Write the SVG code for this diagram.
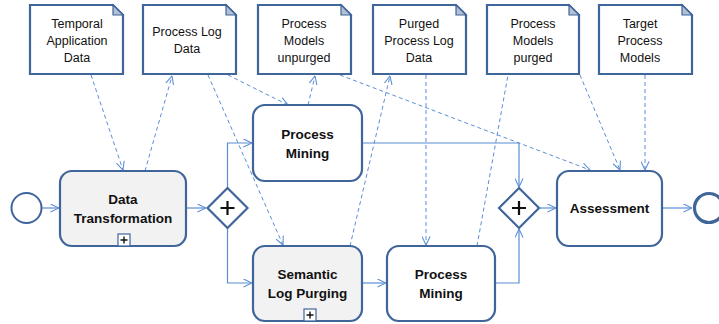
<svg xmlns="http://www.w3.org/2000/svg" width="719" height="324" viewBox="0 0 719 324">
<defs>
<marker id="arr" viewBox="0 0 10 10" refX="9.5" refY="5" markerWidth="9" markerHeight="9" markerUnits="userSpaceOnUse" orient="auto">
<path d="M0,0.5 L9.5,5 L0,9.5" fill="none" stroke="#5b8ed6" stroke-width="1.2"/>
</marker>
<marker id="arrd" viewBox="0 0 10 10" refX="9.5" refY="5" markerWidth="9" markerHeight="9" markerUnits="userSpaceOnUse" orient="auto">
<path d="M0,0.5 L9.5,5 L0,9.5" fill="none" stroke="#5b8ed6" stroke-width="1.2"/>
</marker>
</defs>
<style>
.doc{fill:#fff;stroke:#3f659a;stroke-width:2.2;stroke-linejoin:miter}
.fold{fill:#b4c0d2;stroke:#3f659a;stroke-width:1.2}
.dt{font-family:"Liberation Sans",Arial,sans-serif;font-size:12.5px;fill:#111;text-anchor:middle}
.task{fill:#fff;stroke:#3f659a;stroke-width:2.2}
.sub{fill:#f2f2f2}
.tt{font-family:"Liberation Sans",Arial,sans-serif;font-size:13.5px;font-weight:bold;fill:#111;text-anchor:middle}
.flow{fill:none;stroke:#5b8ed6;stroke-width:1.2;marker-end:url(#arr)}
.assoc{fill:none;stroke:#5b8ed6;stroke-width:1;stroke-dasharray:4 3;marker-end:url(#arrd)}
.assocn{fill:none;stroke:#5b8ed6;stroke-width:1;stroke-dasharray:4 3}
.gw{fill:#fff;stroke:#3f659a;stroke-width:2.2}
.plus{stroke:#111;stroke-width:2.2}
.mk{fill:#fff;stroke:#3f659a;stroke-width:1.2}
.mkp{stroke:#111;stroke-width:1.4}
</style>

<g id="connectors">
<line class="flow" x1="42" y1="208" x2="59" y2="208"/>
<line class="flow" x1="187" y1="208" x2="206" y2="208"/>
<polyline class="flow" points="227.5,188 227.5,143 252,143"/>
<polyline class="flow" points="227.5,228 227.5,283 252,283"/>
<line class="flow" x1="363" y1="283" x2="386" y2="283"/>
<polyline class="flow" points="363,143 519,143 519,187"/>
<polyline class="flow" points="496,283 519,283 519,229"/>
<line class="flow" x1="540" y1="208" x2="556" y2="208"/>
<line class="flow" x1="663" y1="208" x2="692" y2="208"/>
<line class="assoc" x1="91" y1="75" x2="123" y2="170"/>
<line class="assoc" x1="145" y1="171" x2="172" y2="76"/>
<line class="assoc" x1="208" y1="75" x2="283" y2="245"/>
<line class="assoc" x1="228" y1="75" x2="288" y2="105"/>
<line class="assoc" x1="308" y1="105" x2="315" y2="76"/>
<line class="assoc" x1="340" y1="75" x2="590" y2="170"/>
<line class="assoc" x1="350" y1="246" x2="390" y2="76"/>
<line class="assoc" x1="426" y1="75" x2="426" y2="245"/>
<line class="assocn" x1="477" y1="246" x2="508" y2="75"/>
<line class="assoc" x1="580" y1="75" x2="620" y2="170"/>
<line class="assoc" x1="645" y1="75" x2="645" y2="170"/>
</g>

<g id="doc-temporal">
<path class="doc" d="M30,5 H113 L123,15 V74 H30 Z"/>
<path class="fold" d="M113,5 V15 H123 Z"/>
<text class="dt" x="77" y="28">Temporal</text>
<text class="dt" x="77" y="45">Application</text>
<text class="dt" x="77" y="62">Data</text>
</g>
<g id="doc-processlog">
<path class="doc" d="M143,5 H226 L236,15 V74 H143 Z"/>
<path class="fold" d="M226,5 V15 H236 Z"/>
<text class="dt" x="187" y="36">Process Log</text>
<text class="dt" x="187" y="53">Data</text>
</g>
<g id="doc-models-unpurged">
<path class="doc" d="M258,5 H341 L351,15 V74 H258 Z"/>
<path class="fold" d="M341,5 V15 H351 Z"/>
<text class="dt" x="304" y="28">Process</text>
<text class="dt" x="304" y="45">Models</text>
<text class="dt" x="304" y="62">unpurged</text>
</g>
<g id="doc-purged-log">
<path class="doc" d="M373,5 H456 L466,15 V74 H373 Z"/>
<path class="fold" d="M456,5 V15 H466 Z"/>
<text class="dt" x="419" y="28">Purged</text>
<text class="dt" x="419" y="45">Process Log</text>
<text class="dt" x="419" y="62">Data</text>
</g>
<g id="doc-models-purged">
<path class="doc" d="M487,5 H569 L579,15 V74 H487 Z"/>
<path class="fold" d="M569,5 V15 H579 Z"/>
<text class="dt" x="533" y="28">Process</text>
<text class="dt" x="533" y="45">Models</text>
<text class="dt" x="533" y="62">purged</text>
</g>
<g id="doc-target">
<path class="doc" d="M599,5 H682 L692,15 V74 H599 Z"/>
<path class="fold" d="M682,5 V15 H692 Z"/>
<text class="dt" x="640" y="28">Target</text>
<text class="dt" x="640" y="45">Process</text>
<text class="dt" x="640" y="62">Models</text>
</g>

<g id="start">
<circle cx="26.5" cy="208" r="15" fill="#fff" stroke="#3f659a" stroke-width="2"/>
</g>
<g id="task-data-transformation">
<rect class="task sub" x="60" y="171" width="126" height="75" rx="12"/>
<text class="tt" x="123" y="204">Data</text>
<text class="tt" x="123" y="223">Transformation</text>
<rect class="mk" x="118" y="234" width="12" height="12"/>
<path class="mkp" d="M120.5,240 H127.5 M124,236.5 V243.5"/>
</g>
<g id="gateway-split">
<path class="gw" d="M227.5,188 L247.5,208 L227.5,228 L207.5,208 Z"/>
<path class="plus" d="M220.5,208 H234.5 M227.5,201 V215"/>
</g>
<g id="task-process-mining-1">
<rect class="task" x="253" y="105" width="109" height="76" rx="12"/>
<text class="tt" x="307.5" y="139">Process</text>
<text class="tt" x="307.5" y="158">Mining</text>
</g>
<g id="task-semantic-log-purging">
<rect class="task sub" x="253" y="246" width="109" height="75" rx="12"/>
<text class="tt" x="307.5" y="279">Semantic</text>
<text class="tt" x="307.5" y="298">Log Purging</text>
<rect class="mk" x="304" y="309" width="12" height="12"/>
<path class="mkp" d="M306.5,315 H313.5 M310,311.5 V318.5"/>
</g>
<g id="task-process-mining-2">
<rect class="task" x="387" y="246" width="108" height="75" rx="12"/>
<text class="tt" x="441" y="279">Process</text>
<text class="tt" x="441" y="298">Mining</text>
</g>
<g id="gateway-join">
<path class="gw" d="M519,188 L539,208 L519,228 L499,208 Z"/>
<path class="plus" d="M512,208 H526 M519,201 V215"/>
</g>
<g id="task-assessment">
<rect class="task" x="557" y="171" width="105" height="75" rx="12"/>
<text class="tt" x="609.5" y="213">Assessment</text>
</g>
<g id="end">
<circle cx="709" cy="208" r="14.5" fill="#fff" stroke="#3f659a" stroke-width="3.2"/>
</g>
</svg>
